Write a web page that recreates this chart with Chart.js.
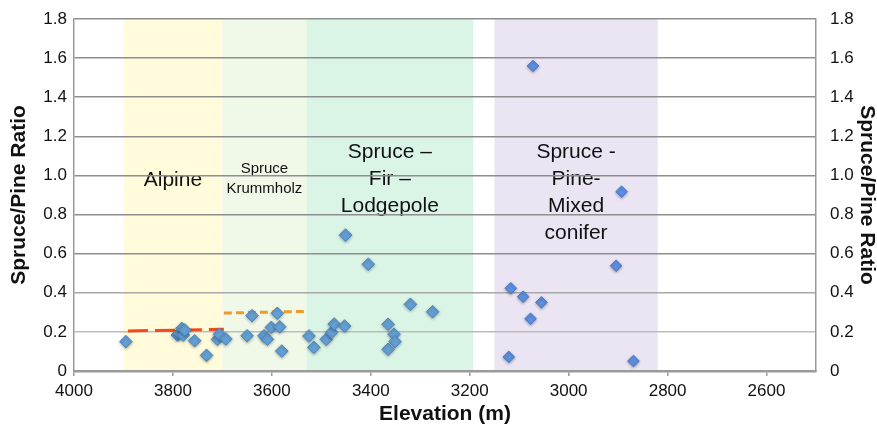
<!DOCTYPE html>
<html>
<head>
<meta charset="utf-8">
<script src="https://cdn.jsdelivr.net/npm/chart.js@4.4.1/dist/chart.umd.min.js"></script>
<style>
  html, body { margin: 0; padding: 0; background: #fff; }
</style>
</head>
<body>
<canvas id="myChart" width="877" height="425"></canvas>
<script>
// plots below the mixed conifer zone
var elevation = [3895, 3791, 3787, 3782, 3779, 3776, 3756, 3732, 3710, 3706, 3693,
  3650, 3640, 3616, 3609, 3601, 3589, 3584, 3580,
  3525, 3515, 3490, 3479, 3474, 3453, 3451, 3405, 3365, 3353, 3351, 3365, 3320, 3275];
var ratio = [0.15, 0.184, 0.193, 0.218, 0.184, 0.21, 0.155, 0.08, 0.162, 0.188, 0.164,
  0.18, 0.283, 0.18, 0.162, 0.223, 0.295, 0.226, 0.102,
  0.179, 0.121, 0.162, 0.198, 0.24, 0.23, 0.695, 0.546, 0.239, 0.188, 0.15, 0.111, 0.341, 0.303];

// mixed conifer plots
var mixedElevation = [3072, 2893, 2904, 3117, 3092, 3055, 3077, 3121, 2869];
var mixedRatio = [1.56, 0.917, 0.538, 0.423, 0.38, 0.351, 0.267, 0.072, 0.051];

// dashed trend lines
var alpineTrendX = [3891, 3697];
var alpineTrendY = [0.205, 0.213];
var krummTrendX = [3697, 3529];
var krummTrendY = [0.296, 0.305];

var xTicks = [4000, 3800, 3600, 3400, 3200, 3000, 2800, 2600];
var yTicks = [0, 0.2, 0.4, 0.6, 0.8, 1.0, 1.2, 1.4, 1.6, 1.8];

// vegetation zones
var zoneNames = [["Alpine"], ["Spruce", "Krummholz"], ["Spruce \u2013", "Fir \u2013", "Lodgepole"],
  ["Spruce -", "Pine-", "Mixed", "conifer"]];
var zoneFrom = [3900, 3700, 3530, 3150];
var zoneTo = [3700, 3530, 3193, 2820];

var zoneStyle = [
  { fill: "rgb(255,251,219)", font: "21px 'Liberation Sans', Arial, sans-serif", top: 0.946, lh: 0 },
  { fill: "rgb(240,248,232)", font: "15px 'Liberation Sans', Arial, sans-serif", top: 1.010, lh: 20 },
  { fill: "rgb(218,244,230)", font: "21px 'Liberation Sans', Arial, sans-serif", top: 1.089, lh: 27 },
  { fill: "rgb(234,228,243)", font: "21px 'Liberation Sans', Arial, sans-serif", top: 1.091, lh: 27 }
];

function pts(xs, ys) {
  return xs.map(function (x, i) { return { x: x, y: ys[i] }; });
}

var zonesPlugin = {
  id: "zones",
  beforeDraw: function (chart) {
    var ctx = chart.ctx, x = chart.scales.x, y = chart.scales.y, area = chart.chartArea;
    ctx.save();
    zoneFrom.forEach(function (from, i) {
      var st = zoneStyle[i];
      var x1 = x.getPixelForValue(from), x2 = x.getPixelForValue(zoneTo[i]);
      ctx.fillStyle = st.fill;
      ctx.fillRect(x1, area.top, x2 - x1, area.bottom - area.top);
      ctx.fillStyle = "#111";
      ctx.font = st.font;
      ctx.textAlign = "center";
      ctx.textBaseline = "alphabetic";
      var base = y.getPixelForValue(st.top);
      zoneNames[i].forEach(function (line, k) {
        ctx.fillText(line, (x1 + x2) / 2, base + k * st.lh);
      });
    });
    ctx.restore();
  },
  beforeDatasetDraw: function (chart, args) {
    var ctx = chart.ctx;
    ctx.save();
    if (!chart.data.datasets[args.index].showLine) {
      ctx.shadowColor = "rgba(0,0,0,0.3)";
      ctx.shadowBlur = 3;
      ctx.shadowOffsetY = 1;
    }
  },
  afterDatasetDraw: function (chart) {
    chart.ctx.restore();
  }
};

var tickFont = { family: "'Liberation Sans', Arial, sans-serif", size: 17 };
var titleFont = { family: "'Liberation Sans', Arial, sans-serif", size: 21, weight: "bold", lineHeight: 1 };

function yLabel(v) {
  return v === 0 ? "0" : v.toFixed(1);
}

function gridColor(c) {
  var v = c.tick ? c.tick.value : 1;
  if (Math.abs(v - 0.2) < 1e-6) return "#bcbcbc";
  if (Math.abs(v - 0.4) < 1e-6) return "#a8a8a8";
  return "#8e8e8e";
}

new Chart("myChart", {
  type: "scatter",
  data: {
    datasets: [
      {
        data: pts(elevation, ratio),
        pointStyle: "rectRot",
        pointRadius: 6.3,
        backgroundColor: "#649fd4",
        borderColor: "#4f88bd",
        borderWidth: 1
      },
      {
        data: pts(mixedElevation, mixedRatio),
        pointStyle: "rectRot",
        pointRadius: 5.8,
        backgroundColor: "#5e8fe0",
        borderColor: "#4a7bcb",
        borderWidth: 1
      },
      {
        data: pts(alpineTrendX, alpineTrendY),
        showLine: true,
        pointRadius: 0,
        borderColor: "#f24a1a",
        borderWidth: 3,
        borderDash: [20, 7]
      },
      {
        data: pts(krummTrendX, krummTrendY),
        showLine: true,
        pointRadius: 0,
        borderColor: "#ee9a2e",
        borderWidth: 3,
        borderDash: [8, 4]
      }
    ]
  },
  options: {
    responsive: false,
    animation: false,
    devicePixelRatio: 1,
    layout: { padding: { top: 19, left: 0, right: 0, bottom: 0 } },
    plugins: {
      legend: { display: false },
      tooltip: { enabled: false }
    },
    scales: {
      x: {
        type: "linear",
        reverse: true,
        min: 2500,
        max: 4000,
        afterBuildTicks: function (axis) {
          axis.ticks = xTicks.map(function (v) { return { value: v }; });
        },
        afterFit: function (axis) { axis.height = 54; },
        grid: { display: true, drawOnChartArea: false, drawTicks: true, tickLength: 5, color: "#999", lineWidth: 1.5 },
        border: { display: true, color: "#9a9a9a", width: 2.5 },
        ticks: { color: "#111", font: tickFont, padding: 5, maxRotation: 0, autoSkip: false,
          callback: function (v) { return String(v); } },
        title: { display: true, text: "Elevation (m)", color: "#111", font: titleFont, padding: { top: 0, bottom: 0 } }
      },
      y: {
        position: "left",
        min: 0,
        max: 1.8,
        afterBuildTicks: function (axis) {
          axis.ticks = yTicks.map(function (v) { return { value: v }; });
        },
        afterFit: function (axis) { axis.width = 74; },
        grid: { display: true, drawTicks: false, color: gridColor, lineWidth: 1.5 },
        border: { display: true, color: "#999", width: 1.5 },
        ticks: { color: "#111", font: tickFont, padding: 7, callback: yLabel },
        title: { display: true, text: "Spruce/Pine Ratio", color: "#111", font: titleFont, padding: { top: 9, bottom: 0 } }
      },
      y2: {
        position: "right",
        min: 0,
        max: 1.8,
        afterBuildTicks: function (axis) {
          axis.ticks = yTicks.map(function (v) { return { value: v }; });
        },
        afterFit: function (axis) { axis.width = 61; },
        grid: { display: false },
        border: { display: true, color: "#999", width: 1.5 },
        ticks: { color: "#111", font: tickFont, padding: 6, callback: yLabel },
        title: { display: true, text: "Spruce/Pine Ratio", color: "#111", font: titleFont, padding: { top: 0, bottom: 0 } }
      }
    }
  },
  plugins: [zonesPlugin]
});
</script>
</body>
</html>
